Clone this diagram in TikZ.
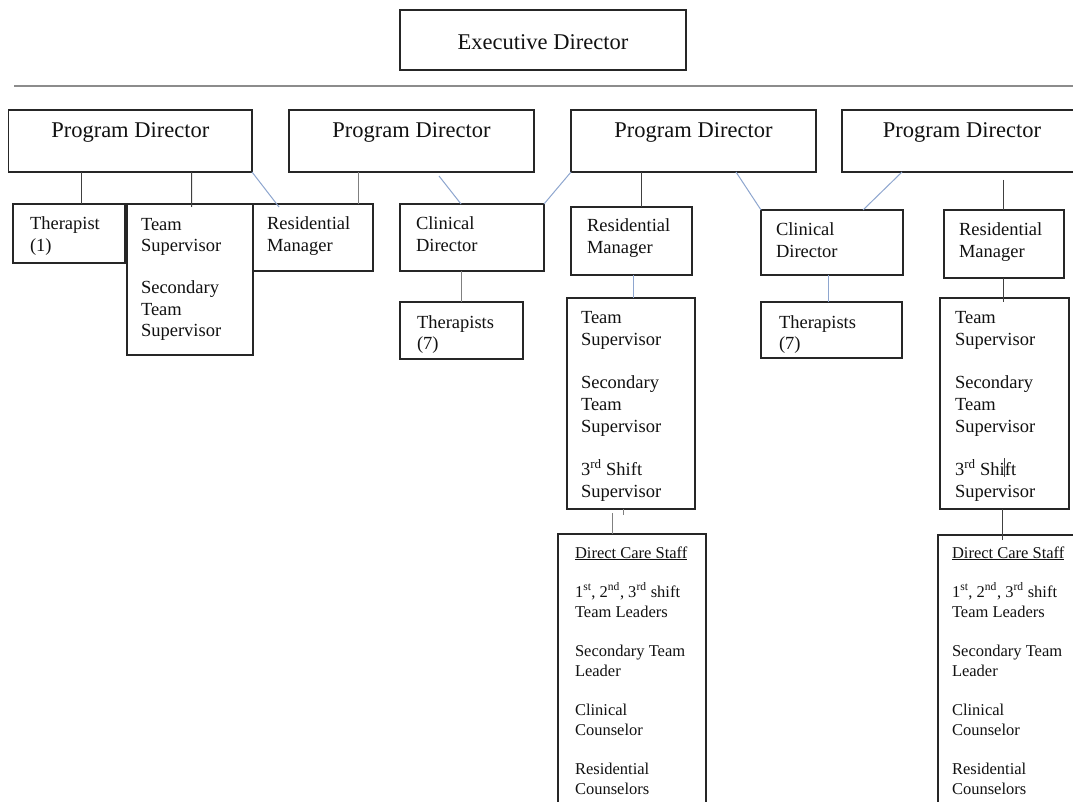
\documentclass[tikz,border=0pt]{standalone}
\usepackage{fontspec}
\setmainfont{Liberation Serif}
\definecolor{boxc}{HTML}{262626}
\definecolor{txtc}{HTML}{111111}
\definecolor{darkc}{HTML}{404040}
\definecolor{greyc}{HTML}{808080}
\definecolor{bluec}{HTML}{8EA6CF}
\definecolor{hlc}{HTML}{8C8C8C}
\begin{document}
\begin{tikzpicture}[x=1pt,y=-1pt,
  box/.style={draw=boxc, line width=1.2pt, anchor=north west, inner sep=0pt, outer sep=0pt},
  txt/.style={anchor=north west, inner sep=0pt, outer sep=0pt, align=left, text=txtc, font=\fontsize{18.5}{21.7}\selectfont},
  txtb/.style={txt, font=\fontsize{18.5}{22}\selectfont},
  stxt/.style={txt, font=\fontsize{16.5}{20}\selectfont},
  big/.style={anchor=base, inner sep=0pt, outer sep=0pt, text=txtc, font=\fontsize{22.5}{27}\selectfont},
  dline/.style={draw=darkc, line width=1pt},
  gline/.style={draw=greyc, line width=1pt},
  bline/.style={draw=bluec, line width=1pt},
  hline/.style={draw=hlc, line width=1.5pt}]
\useasboundingbox (0,0) rectangle (1073,802);
\fill[white] (0,0) rectangle (1073,802);
\clip (0,0) rectangle (1073,802);

% top
\node[box, minimum width=286pt, minimum height=60pt] (exec) at (400,10) {};
\node[big] (exect) at (543,49.5) {Executive Director};
\coordinate (hl1) at (14,86);
\coordinate (hl2) at (1073,86);
\draw[hline] (hl1) -- (hl2);

% program directors
\node[box, minimum width=243.4pt, minimum height=62pt] (pd1) at (8.6,110) {};
\node[box, minimum width=245pt, minimum height=62pt] (pd2) at (289,110) {};
\node[box, minimum width=245pt, minimum height=62pt] (pd3) at (571,110) {};
\node[box, minimum width=240pt, minimum height=62pt] (pd4) at (842,110) {};
\node[big] (pd1t) at (130.3,138) {Program Director};
\node[big] (pd2t) at (411.5,138) {Program Director};
\node[big] (pd3t) at (693.5,138) {Program Director};
\node[big] (pd4t) at (962,138) {Program Director};

% second level boxes
\node[box, minimum width=112pt, minimum height=59pt] (th1) at (13,204) {};
\node[box, minimum width=126pt, minimum height=151pt] (tsl) at (127,204) {};
\node[box, minimum width=120pt, minimum height=67pt] (rml) at (253,204) {};
\node[box, minimum width=144pt, minimum height=67pt] (cdl) at (400,204) {};
\node[box, minimum width=123pt, minimum height=57pt] (thl) at (400,302) {};
\node[box, minimum width=121pt, minimum height=68pt] (rmm) at (571,207) {};
\node[box, minimum width=142pt, minimum height=65pt] (cdr) at (761,210) {};
\node[box, minimum width=120pt, minimum height=68pt] (rmr) at (944,210) {};
\node[box, minimum width=128pt, minimum height=211pt] (tsm) at (567,298) {};
\node[box, minimum width=141pt, minimum height=56pt] (thr) at (761,302) {};
\node[box, minimum width=129pt, minimum height=211pt] (tsr) at (940,298) {};
\node[box, minimum width=148pt, minimum height=290pt] (dcm) at (558,534) {};
\node[box, minimum width=145pt, minimum height=290pt] (dcr) at (938,535) {};

% texts
\node[txt] (th1t) at (30,214) {\rule{0pt}{16pt}Therapist\\(1)};
\node[txt] (tslt) at (141,214) {\rule{0pt}{16pt}Team\\Supervisor\\[20pt]Secondary\\Team\\Supervisor};
\node[txt] (rmlt) at (267,214) {\rule{0pt}{16pt}Residential\\Manager};
\node[txt] (cdlt) at (416,214) {\rule{0pt}{16pt}Clinical\\Director};
\node[txt] (thlt) at (417,312) {\rule{0pt}{16pt}Therapists\\(7)};
\node[txt] (rmmt) at (587,216) {\rule{0pt}{16pt}Residential\\Manager};
\node[txt] (cdrt) at (776,220) {\rule{0pt}{16pt}Clinical\\Director};
\node[txt] (rmrt) at (959,220) {\rule{0pt}{16pt}Residential\\Manager};
\node[txt] (thrt) at (779,312) {\rule{0pt}{16pt}Therapists\\(7)};
\node[txtb] (tsmt) at (581,307) {\rule{0pt}{16pt}Team\\Supervisor\\[21pt]Secondary\\Team\\Supervisor\\[21pt]3\textsuperscript{rd} Shift\\Supervisor};
\node[txtb] (tsrt) at (955,307) {\rule{0pt}{16pt}Team\\Supervisor\\[21pt]Secondary\\Team\\Supervisor\\[21pt]3\textsuperscript{rd} Shift\\Supervisor};
\node[stxt] (dcmt) at (575,544) {\rule{0pt}{14pt}\underline{Direct Care Staff}\\[19pt]1\textsuperscript{st}, 2\textsuperscript{nd}, 3\textsuperscript{rd} shift\\Team Leaders\\[19pt]Secondary Team\\Leader\\[19pt]Clinical\\Counselor\\[19pt]Residential\\Counselors};
\node[stxt] (dcrt) at (952,544) {\rule{0pt}{14pt}\underline{Direct Care Staff}\\[19pt]1\textsuperscript{st}, 2\textsuperscript{nd}, 3\textsuperscript{rd} shift\\Team Leaders\\[19pt]Secondary Team\\Leader\\[19pt]Clinical\\Counselor\\[19pt]Residential\\Counselors};

% connectors
\draw[dline] ([xshift=73pt]pd1.south west) -- ([xshift=68.6pt]th1.north west);
\draw[dline] ([xshift=183pt]pd1.south west) -- ([xshift=64.5pt,yshift=-3pt]tsl.north west);
\draw[bline] (pd1.south east) -- ([xshift=26pt,yshift=-3pt]rml.north west);
\draw[gline] ([xshift=69pt]pd2.south west) -- ([xshift=105pt]rml.north west);
\draw[bline] ([xshift=150pt,yshift=-4pt]pd2.south west) -- ([xshift=61pt]cdl.north west);
\draw[gline] ([xshift=61pt]cdl.south west) -- ([xshift=61pt]thl.north west);
\draw[bline] (pd3.south west) -- (cdl.north east);
\draw[dline] ([xshift=70pt]pd3.south west) -- ([xshift=70pt]rmm.north west);
\draw[bline] ([xshift=165pt]pd3.south west) -- (cdr.north west);
\draw[bline] ([xshift=60pt]pd4.south west) -- ([xshift=102pt]cdr.north west);
\draw[dline] ([xshift=161pt,yshift=-8pt]pd4.south west) -- ([xshift=59pt]rmr.north west);
\draw[bline] ([xshift=62pt]rmm.south west) -- ([xshift=66pt]tsm.north west);
\draw[bline] ([xshift=67pt]cdr.south west) -- ([xshift=67pt]thr.north west);
\draw[dline] ([xshift=59pt]rmr.south west) -- ([xshift=63pt,yshift=-4pt]tsr.north west);
\draw[gline] ([xshift=45pt,yshift=-4pt]tsm.south west) -- ([xshift=54pt]dcm.north west);
\coordinate (tick) at (623,515);
\draw[gline] ([xshift=56pt]tsm.south west) -- (tick);
\draw[dline] ([xshift=62pt]tsr.south west) -- ([xshift=64pt,yshift=-5pt]dcr.north west);
\coordinate (art1) at (1004,458);
\coordinate (art2) at (1004,477);
\draw[darkc, line width=0.8pt] (art1) -- (art2);
\end{tikzpicture}
\end{document}
